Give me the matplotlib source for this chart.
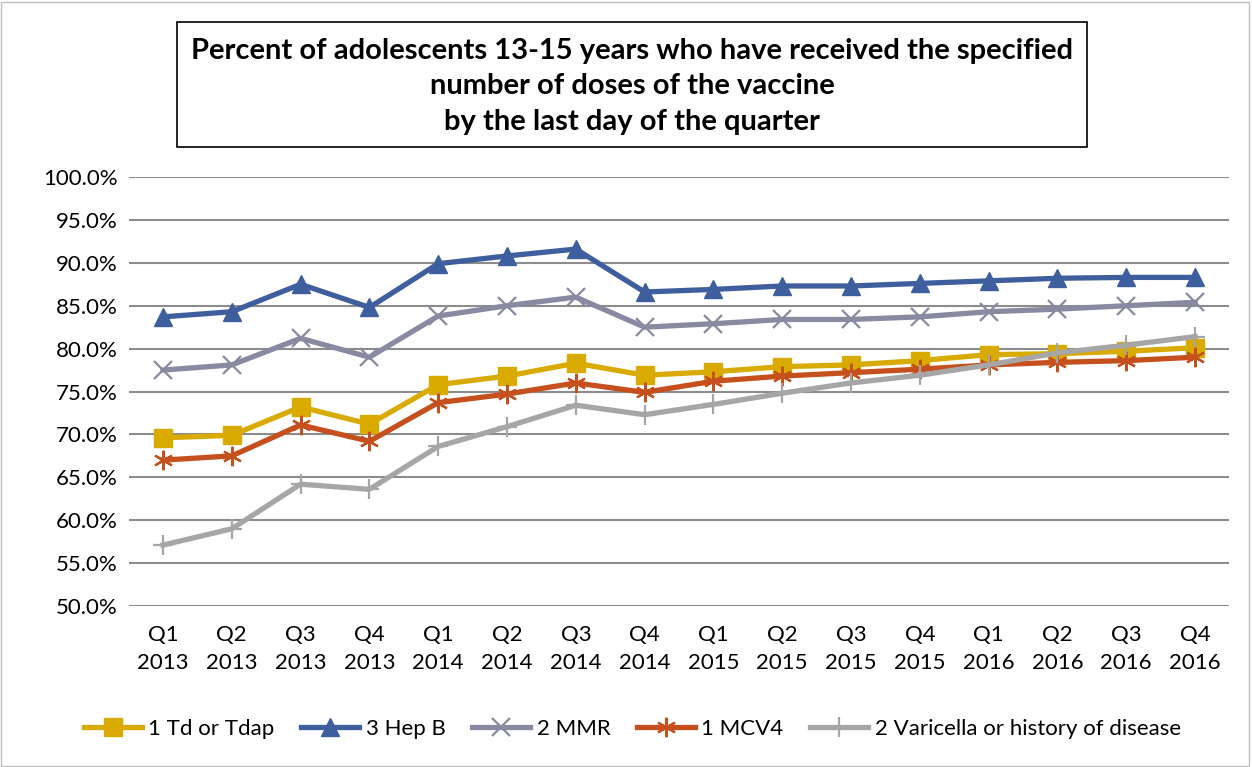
"""Adolescent vaccination coverage by quarter, 2013-2016."""

import matplotlib.pyplot as plt
import numpy as np
from matplotlib.patches import Rectangle
from matplotlib.ticker import FuncFormatter

quarters = ["Q1\n2013", "Q2\n2013", "Q3\n2013", "Q4\n2013",
            "Q1\n2014", "Q2\n2014", "Q3\n2014", "Q4\n2014",
            "Q1\n2015", "Q2\n2015", "Q3\n2015", "Q4\n2015",
            "Q1\n2016", "Q2\n2016", "Q3\n2016", "Q4\n2016"]

td_tdap = [69.6, 69.9, 73.2, 71.2, 75.8, 76.8, 78.3, 76.9,
           77.3, 77.9, 78.1, 78.6, 79.3, 79.4, 79.7, 80.1]
hep_b = [83.7, 84.3, 87.5, 84.8, 89.9, 90.8, 91.6, 86.6,
         86.9, 87.3, 87.3, 87.6, 87.9, 88.2, 88.3, 88.3]
mmr = [77.5, 78.1, 81.2, 79.0, 83.8, 85.0, 86.0, 82.5,
       82.9, 83.4, 83.4, 83.7, 84.3, 84.6, 85.0, 85.4]
mcv4 = [67.0, 67.5, 71.1, 69.2, 73.7, 74.7, 76.0, 74.9,
        76.2, 76.8, 77.2, 77.6, 78.1, 78.4, 78.6, 79.0]
varicella = [57.1, 59.0, 64.2, 63.6, 68.6, 70.9, 73.4, 72.3,
             73.5, 74.8, 76.0, 76.9, 78.1, 79.5, 80.4, 81.4]

plt.rcParams["font.family"] = ["Lato", "DejaVu Sans"]

fig = plt.figure(figsize=(12.52, 7.67), dpi=100)
ax = fig.add_axes([0.1027, 0.2099, 0.8793, 0.5593])

x = np.arange(len(quarters))
series = [
    (td_tdap, "1 Td or Tdap", "#D9AA00", "s", 13, {}),
    (hep_b, "3 Hep B", "#3F5E9E", "^", 13, {}),
    (mmr, "2 MMR", "#878AA0", "x", 13, {"markeredgewidth": 1.6}),
    (mcv4, "1 MCV4", "#C64F1E", (6, 2, 0), 14, {"markeredgewidth": 1.6}),
    (varicella, "2 Varicella or history of disease", "#A6A6A6", "+", 14,
     {"markeredgewidth": 1.6}),
]
for vals, label, color, marker, ms, kw in series:
    ax.plot(x, vals, color=color, lw=3.8, marker=marker, markersize=ms,
            label=label, zorder=3, **kw)

ax.set_xlim(-0.5, len(quarters) - 0.5)
ax.set_ylim(50, 100)
ax.set_yticks(np.arange(50, 100.1, 5))
ax.yaxis.set_major_formatter(FuncFormatter(lambda v, _: f"{v:.1f}%"))
ax.set_xticks(x)
ax.set_xticklabels(quarters, linespacing=1.5)
ax.tick_params(length=0, labelsize=16, colors="black")
ax.tick_params(axis="x", pad=14)
ax.tick_params(axis="y", pad=8)
ax.grid(axis="y", color="#8C8C8C", lw=1.5, zorder=0)
for s in ax.spines.values():
    s.set_visible(False)

fig.legend(loc="center", bbox_to_anchor=(0.505, 0.05), ncol=5, frameon=False,
           fontsize=16, handlelength=2.6, columnspacing=1.2, handletextpad=0.3)

fig.text(0.505, 0.8875, "Percent of adolescents 13-15 years who have received the specified\n"
         "number of doses of the vaccine\nby the last day of the quarter",
         ha="center", va="center", fontsize=21, fontweight="bold", linespacing=1.45)
fig.patches.append(Rectangle((177 / 1252, 1 - 147 / 767), 910 / 1252, 125 / 767,
                             transform=fig.transFigure, fill=False,
                             edgecolor="black", lw=1.2))
fig.patches.append(Rectangle((0.001, 0.001), 0.997, 0.997, transform=fig.transFigure,
                             fill=False, edgecolor="#BFBFBF", lw=1))

fig.savefig("out.png", dpi=100)
